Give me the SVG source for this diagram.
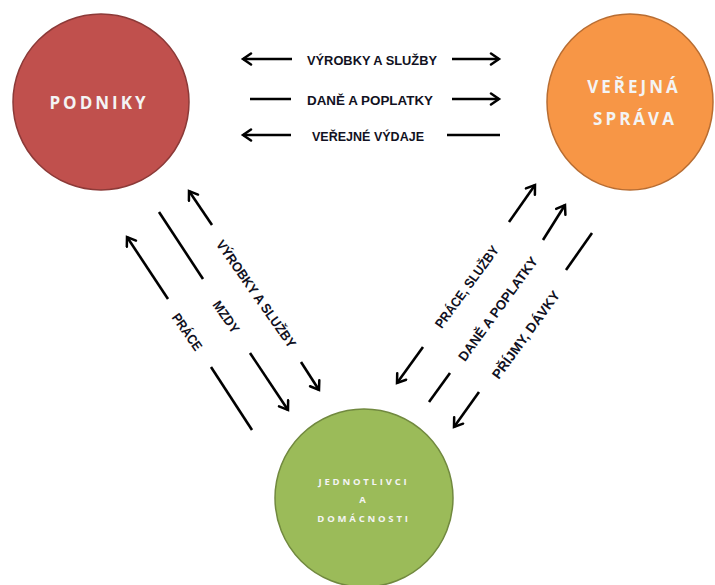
<svg xmlns="http://www.w3.org/2000/svg" width="715" height="585" viewBox="0 0 715 585">
<defs>
<marker id="ah" markerUnits="userSpaceOnUse" markerWidth="14" markerHeight="14" viewBox="0 0 14 14" refX="11" refY="7" orient="auto">
<path d="M3,1.5 L11,7 L3,12.5" fill="none" stroke="#000" stroke-width="2.5" stroke-linecap="round" stroke-linejoin="miter"/>
</marker>
<style>
.c{stroke:#000;stroke-width:2.6;fill:none}
.a{marker-end:url(#ah)}
.lbl{font-family:"Liberation Sans",Arial,sans-serif;font-weight:bold;font-size:13.5px;fill:#111122;text-anchor:middle;dominant-baseline:central}
.nt{font-family:"Open Sans","Liberation Sans",sans-serif;font-weight:bold;fill:#f4f4f4;text-anchor:middle;dominant-baseline:central}
</style>
</defs>
<rect width="715" height="585" fill="#fff"/>
<g id="podniky">
<circle cx="101" cy="102" r="88" fill="#c0504d" stroke="#8c3a38" stroke-width="1.5"/>
<text class="nt" x="99" y="102" font-size="17" letter-spacing="3">PODNIKY</text>
</g>
<g id="verejna-sprava">
<ellipse cx="630" cy="102" rx="83" ry="88" fill="#f79646" stroke="#b86d32" stroke-width="1.5"/>
<text class="nt" x="634" y="86" font-size="17" letter-spacing="3">VEŘEJNÁ</text>
<text class="nt" x="635" y="118" font-size="17" letter-spacing="3">SPRÁVA</text>
</g>
<g id="jednotlivci">
<circle cx="364" cy="498" r="89" fill="#9bbb59" stroke="#71893f" stroke-width="1.5"/>
<text class="nt" x="364" y="481" font-size="9.5" letter-spacing="2.8">JEDNOTLIVCI</text>
<text class="nt" x="364" y="499" font-size="9.5" letter-spacing="2.8">A</text>
<text class="nt" x="364" y="518" font-size="9.5" letter-spacing="2.8">DOMÁCNOSTI</text>
</g>
<g id="connectors">
<line class="c a" x1="292" y1="59" x2="243" y2="59"/>
<line class="c a" x1="452" y1="59" x2="499" y2="59"/>
<line class="c" x1="250" y1="99" x2="291" y2="99"/>
<line class="c a" x1="452" y1="99" x2="499" y2="99"/>
<line class="c a" x1="291" y1="135" x2="243" y2="135"/>
<line class="c" x1="447" y1="135" x2="500" y2="135"/>
<line class="c a" x1="212" y1="225" x2="189" y2="191"/>
<line class="c a" x1="301" y1="362" x2="319" y2="390"/>
<line class="c" x1="159" y1="212" x2="203" y2="279"/>
<line class="c a" x1="250" y1="353" x2="288" y2="410"/>
<line class="c a" x1="168" y1="299" x2="127" y2="237"/>
<line class="c" x1="211" y1="367" x2="252" y2="430"/>
<line class="c a" x1="509" y1="222" x2="535" y2="185"/>
<line class="c a" x1="423" y1="347" x2="397" y2="383"/>
<line class="c a" x1="543" y1="240" x2="565" y2="205"/>
<line class="c" x1="450" y1="373" x2="429" y2="402"/>
<line class="c" x1="592" y1="233" x2="566" y2="270"/>
<line class="c a" x1="479" y1="392" x2="454" y2="427"/>
</g>
<g id="labels">
<text class="lbl" x="372" y="60" textLength="130" lengthAdjust="spacingAndGlyphs">VÝROBKY A SLUŽBY</text>
<text class="lbl" x="370" y="100" textLength="126" lengthAdjust="spacingAndGlyphs">DANĚ A POPLATKY</text>
<text class="lbl" x="368" y="136" textLength="112" lengthAdjust="spacingAndGlyphs">VEŘEJNÉ VÝDAJE</text>
<text class="lbl" transform="translate(256,294) rotate(55)" textLength="128" lengthAdjust="spacingAndGlyphs">VÝROBKY A SLUŽBY</text>
<text class="lbl" transform="translate(226,317) rotate(55)" textLength="36" lengthAdjust="spacingAndGlyphs">MZDY</text>
<text class="lbl" transform="translate(187,332) rotate(55)" textLength="42" lengthAdjust="spacingAndGlyphs">PRÁCE</text>
<text class="lbl" transform="translate(467,287) rotate(-54)" textLength="98" lengthAdjust="spacingAndGlyphs">PRÁCE, SLUŽBY</text>
<text class="lbl" transform="translate(498,309) rotate(-54)" textLength="125" lengthAdjust="spacingAndGlyphs">DANĚ A POPLATKY</text>
<text class="lbl" transform="translate(526,335) rotate(-54)" textLength="105" lengthAdjust="spacingAndGlyphs">PŘÍJMY, DÁVKY</text>
</g>
</svg>
